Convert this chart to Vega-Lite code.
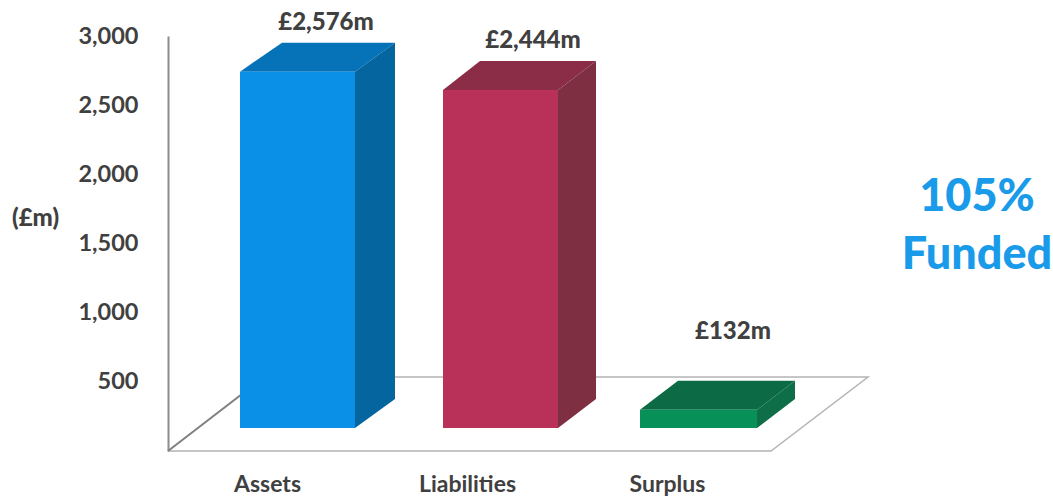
{
  "$schema": "https://vega.github.io/schema/vega-lite/v6.json",
  "width": 700,
  "height": 415,
  "autosize": "none",
  "padding": {"left": 168, "top": 36, "right": 185, "bottom": 46},
  "background": "white",
  "config": {
    "view": {"stroke": null},
    "text": {"font": "Lato", "fontWeight": "bold", "color": "#404040"}
  },
  "datasets": {
    "bars": [
      {"item": "Assets", "value": 2576, "part": "Assets front", "left": 0.865, "right": 1.44, "labelAt": 1.295, "label": "£2,576m"},
      {"item": "Liabilities", "value": 2444, "part": "Liabilities front", "left": 1.88, "right": 2.455, "labelAt": 2.33, "label": "£2,444m"},
      {"item": "Surplus", "value": 132, "part": "Surplus front", "left": 2.865, "right": 3.45, "labelAt": 3.33, "label": "£132m"}
    ],
    "faces": [
      {"part": "Assets top", "at": 0.865, "upper": 2576, "lower": 2576},
      {"part": "Assets top", "at": 1.075, "upper": 2786, "lower": 2576},
      {"part": "Assets top", "at": 1.44, "upper": 2786, "lower": 2576},
      {"part": "Assets top", "at": 1.64, "upper": 2786, "lower": 2786},
      {"part": "Assets side", "at": 1.44, "upper": 2576, "lower": 0},
      {"part": "Assets side", "at": 1.64, "upper": 2786, "lower": 210},
      {"part": "Liabilities top", "at": 1.88, "upper": 2444, "lower": 2444},
      {"part": "Liabilities top", "at": 2.065, "upper": 2654, "lower": 2444},
      {"part": "Liabilities top", "at": 2.455, "upper": 2654, "lower": 2444},
      {"part": "Liabilities top", "at": 2.645, "upper": 2654, "lower": 2654},
      {"part": "Liabilities side", "at": 2.455, "upper": 2444, "lower": 0},
      {"part": "Liabilities side", "at": 2.645, "upper": 2654, "lower": 210},
      {"part": "Surplus top", "at": 2.865, "upper": 132, "lower": 132},
      {"part": "Surplus top", "at": 3.055, "upper": 342, "lower": 132},
      {"part": "Surplus top", "at": 3.45, "upper": 342, "lower": 132},
      {"part": "Surplus top", "at": 3.64, "upper": 342, "lower": 342},
      {"part": "Surplus side", "at": 3.45, "upper": 132, "lower": 0},
      {"part": "Surplus side", "at": 3.64, "upper": 342, "lower": 210}
    ],
    "floor": [
      {"edge": "left", "at": 0.505, "level": 0, "seq": 1},
      {"edge": "left", "at": 0.985, "level": 535, "seq": 2},
      {"edge": "outer", "at": 0.505, "level": 0, "seq": 1},
      {"edge": "outer", "at": 3.52, "level": 0, "seq": 2},
      {"edge": "outer", "at": 4.005, "level": 535, "seq": 3},
      {"edge": "outer", "at": 0.985, "level": 535, "seq": 4}
    ],
    "callout": [
      {"text": "105%", "at": 4.55, "level": 1836},
      {"text": "Funded", "at": 4.55, "level": 1417}
    ]
  },
  "layer": [
    {
      "layer": [
        {
          "data": {"name": "floor"},
          "transform": [{"filter": "datum.edge === 'outer'"}],
          "mark": {"type": "line", "color": "#b4b4b4", "strokeWidth": 1.5},
          "encoding": {
            "x": {
              "field": "at",
              "type": "quantitative",
              "scale": {"domain": [0.505, 4.005], "nice": false, "zero": false},
              "title": null,
              "axis": {
                "values": [1, 2, 3],
                "labelExpr": "datum.value === 1 ? 'Assets' : datum.value === 2 ? 'Liabilities' : 'Surplus'",
                "domain": false,
                "ticks": false,
                "grid": false,
                "labelPadding": 22,
                "labelFont": "Lato",
                "labelFontWeight": "bold",
                "labelFontSize": 23,
                "labelColor": "#404040"
              }
            },
            "y": {
              "field": "level",
              "type": "quantitative",
              "scale": {"domain": [0, 3000], "nice": false},
              "title": "(£m)",
              "axis": {
                "values": [500, 1000, 1500, 2000, 2500, 3000],
                "format": ",d",
                "grid": false,
                "ticks": false,
                "domainColor": "#8c8c8c",
                "domainWidth": 2,
                "labelPadding": 30,
                "labelFont": "Lato",
                "labelFontWeight": "bold",
                "labelFontSize": 23.5,
                "labelColor": "#404040",
                "titleFont": "Lato",
                "titleFontWeight": 900,
                "titleFontSize": 24,
                "titleColor": "#404040",
                "titleAngle": 0,
                "titleAlign": "center",
                "titleBaseline": "middle",
                "titleX": -133,
                "titleY": 182
              }
            },
            "order": {"field": "seq"},
            "detail": {"field": "edge"}
          }
        },
        {
          "data": {"name": "floor"},
          "transform": [{"filter": "datum.edge === 'left'"}],
          "mark": {"type": "line", "color": "#808080", "strokeWidth": 2},
          "encoding": {
            "x": {"field": "at", "type": "quantitative"},
            "y": {"field": "level", "type": "quantitative"},
            "order": {"field": "seq"},
            "detail": {"field": "edge"}
          }
        },
        {
          "data": {"name": "callout"},
          "mark": {"type": "text", "fontSize": 45, "fontWeight": 900, "color": "#1a9bea", "align": "center", "baseline": "middle"},
          "encoding": {
            "x": {"field": "at", "type": "quantitative"},
            "y": {"field": "level", "type": "quantitative"},
            "text": {"field": "text"}
          }
        }
      ]
    },
    {
      "layer": [
        {
          "data": {"name": "faces"},
          "mark": {"type": "area", "interpolate": "linear", "opacity": 1},
          "encoding": {
            "x": {"field": "at", "type": "quantitative"},
            "y": {
              "field": "upper",
              "type": "quantitative",
              "scale": {"domain": [-166, 2834], "nice": false, "zero": false},
              "axis": null
            },
            "y2": {"field": "lower"},
            "color": {
              "field": "part",
              "type": "nominal",
              "legend": null,
              "scale": {
                "domain": ["Assets front", "Assets top", "Assets side", "Liabilities front", "Liabilities top", "Liabilities side", "Surplus front", "Surplus top", "Surplus side"],
                "range": ["#0a90e6", "#0672b8", "#05659f", "#b93058", "#8c2d48", "#7f2f42", "#079058", "#0c6b45", "#0d6e48"]
              }
            }
          }
        },
        {
          "data": {"name": "bars"},
          "mark": {"type": "bar"},
          "encoding": {
            "x": {"field": "left", "type": "quantitative"},
            "x2": {"field": "right"},
            "y": {"field": "value", "type": "quantitative"},
            "y2": {"datum": 0},
            "color": {"field": "part", "type": "nominal"}
          }
        },
        {
          "data": {"name": "bars"},
          "transform": [{"filter": "datum.value > 1000"}],
          "mark": {"type": "text", "fontSize": 24, "fontWeight": 900, "align": "center", "baseline": "middle", "dy": -49},
          "encoding": {
            "x": {"field": "labelAt", "type": "quantitative"},
            "y": {"field": "value", "type": "quantitative"},
            "text": {"field": "label"}
          }
        },
        {
          "data": {"name": "bars"},
          "transform": [{"filter": "datum.value <= 1000"}],
          "mark": {"type": "text", "fontSize": 24, "fontWeight": 900, "align": "center", "baseline": "middle", "dy": -78},
          "encoding": {
            "x": {"field": "labelAt", "type": "quantitative"},
            "y": {"field": "value", "type": "quantitative"},
            "text": {"field": "label"}
          }
        }
      ]
    }
  ],
  "resolve": {"scale": {"y": "independent"}}
}
